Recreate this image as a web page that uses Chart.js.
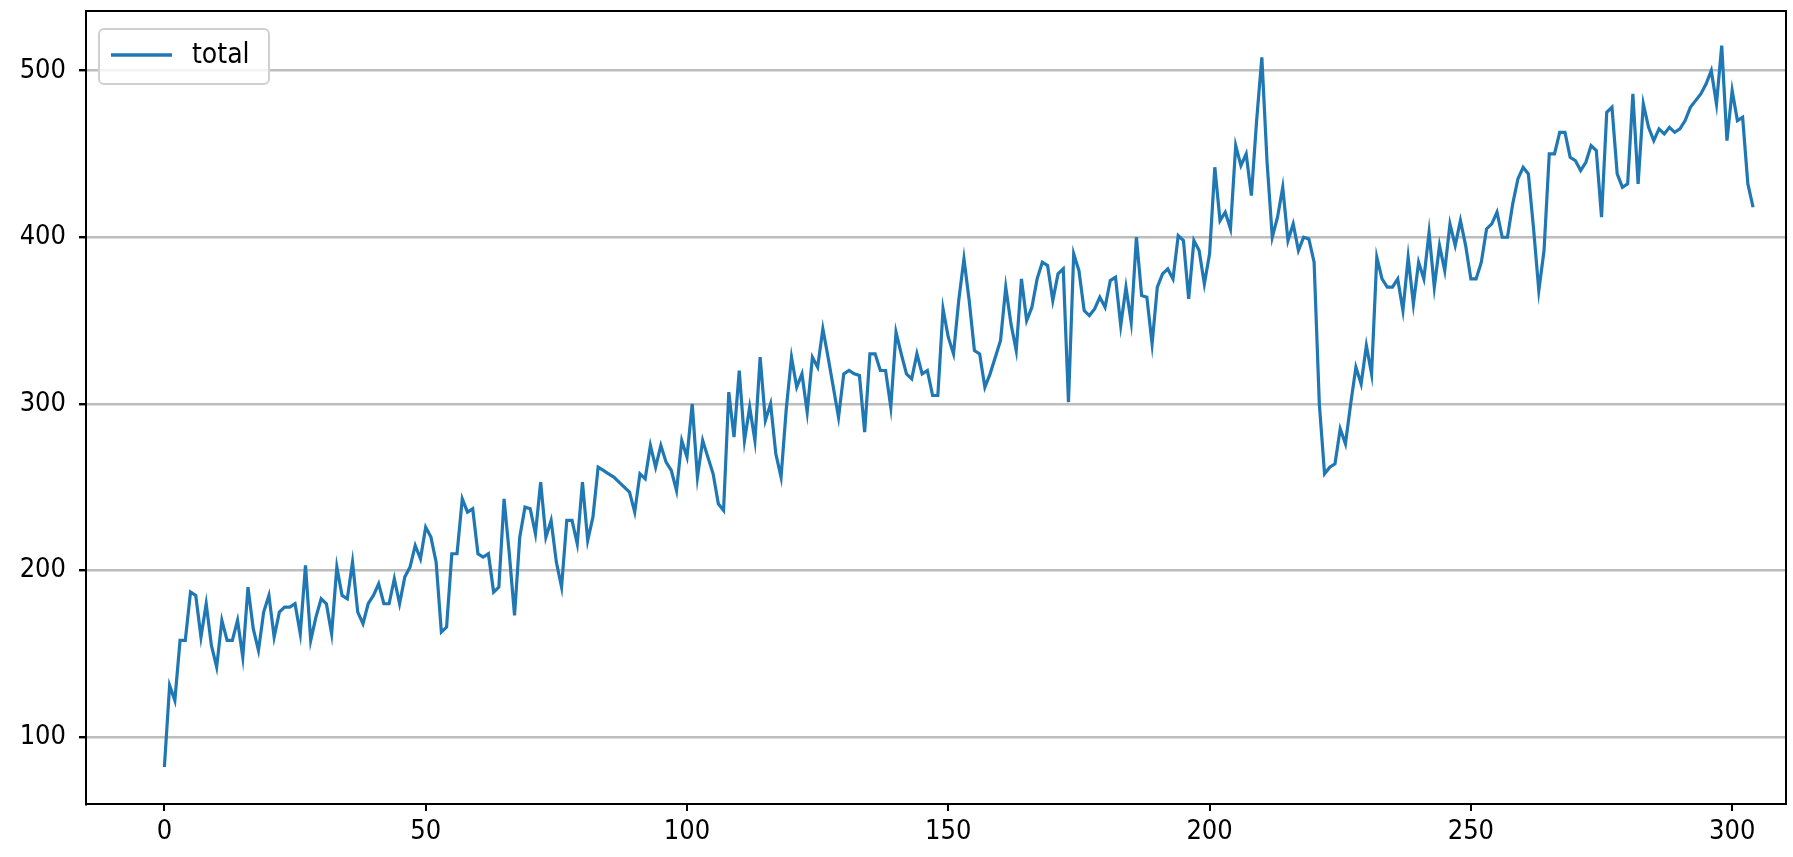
<!DOCTYPE html>
<html>
<head>
<meta charset="utf-8">
<script src="https://cdn.jsdelivr.net/npm/chart.js@4.4.1/dist/chart.umd.min.js"></script>
<style>
  html, body { margin: 0; padding: 0; background: #fff; }
  #wrap { position: relative; width: 1793px; height: 857px; }
</style>
</head>
<body>
<div id="wrap"><canvas id="totalChart"></canvas></div>
<script>
// series, one value per step
const seriesLabel = 'total';
const totalValues = [
  82, 131, 122, 158, 158, 187, 185, 160, 180, 155,
  142, 170, 158, 158, 170, 148, 190, 165, 152, 175,
  185, 160, 175, 178, 178, 180, 162, 203, 158, 172,
  183, 180, 162, 202, 185, 183, 205, 175, 168, 180,
  185, 192, 180, 180, 195, 180, 196, 202, 215, 207,
  226, 220, 205, 163, 166, 210, 210, 243, 235, 237,
  210, 208, 210, 187, 190, 243, 210, 173, 220, 238,
  237, 222, 253, 220, 230, 205, 190, 230, 230, 216,
  253, 218, 232, 262, 260, 258, 256, 253, 250, 247,
  235, 258, 255, 275, 262, 275, 265, 260, 248, 278,
  268, 300, 256, 278, 268, 258, 240, 236, 307, 280,
  320, 278, 298, 278, 328, 290, 300, 270, 256, 297,
  328, 310, 318, 295, 328, 322, 345, 328, 310, 292,
  318, 320, 318, 317, 283, 330, 330, 320, 320, 298,
  343, 330, 318, 315, 330, 318, 320, 305, 305, 357,
  340, 330, 362, 387, 362, 332, 330, 310, 318, 328,
  338, 370, 348, 332, 375, 350, 358, 375, 385, 383,
  362, 378, 381, 301, 390, 380, 356, 353, 357, 364,
  358, 374, 376, 347, 370, 349, 400, 365, 364, 336,
  370, 378, 381, 375, 401, 398, 363, 398, 392, 372,
  390, 442, 410, 415, 405, 455, 443, 450, 425, 470,
  508, 445, 400, 412, 430, 398, 408, 392, 400, 399,
  385, 300, 258, 262, 264, 285, 276, 300, 322, 312,
  335, 318, 388, 375, 370, 370, 375, 356, 388, 360,
  385, 375, 403, 370, 395, 380, 408, 395, 410, 395,
  375, 375, 385, 405, 408, 415, 400, 400, 420, 435,
  442, 438, 405, 368, 392, 450, 450, 463, 463, 448,
  446, 440, 445, 455, 452, 412, 475, 478, 438, 430,
  432, 486, 432, 480, 466, 458, 465, 462, 466, 463,
  465, 470, 478, 482, 486, 492, 500, 480, 515, 458,
  488, 470, 472, 432, 418
];
const xTicks = [0, 50, 100, 150, 200, 250, 300];
const yTicks = [100, 200, 300, 400, 500];

const tickFont = { family: 'DejaVu Sans Condensed', size: 27 };

// matplotlib style box round the plot and the legend in the top left corner
const framePlugin = {
  id: 'frame',
  afterDraw(chart) {
    const { ctx, chartArea: a } = chart;
    ctx.save();
    ctx.strokeStyle = '#000';
    ctx.lineWidth = 2;
    ctx.strokeRect(a.left, a.top, a.right - a.left, a.bottom - a.top);

    const ds = chart.data.datasets[0];
    const bx = a.left + 13, by = a.top + 18, bw = 170, bh = 55;
    ctx.fillStyle = 'rgba(255,255,255,0.8)';
    ctx.strokeStyle = '#d0d0d0';
    ctx.lineWidth = 2;
    ctx.beginPath();
    ctx.roundRect(bx, by, bw, bh, 5);
    ctx.fill();
    ctx.stroke();

    ctx.strokeStyle = ds.borderColor;
    ctx.lineWidth = 3.6;
    ctx.beginPath();
    ctx.moveTo(bx + 12, by + 26);
    ctx.lineTo(bx + 73, by + 26);
    ctx.stroke();

    ctx.fillStyle = '#000';
    ctx.font = '28px "DejaVu Sans Condensed"';
    ctx.textBaseline = 'middle';
    ctx.fillText(ds.label, bx + 93, by + 27);
    ctx.restore();
  }
};

const ctx = document.getElementById('totalChart').getContext('2d');
const totalChart = new Chart(ctx, {
  type: 'line',
  data: {
    datasets: [{
      label: seriesLabel,
      data: totalValues.map((v, i) => ({ x: i, y: v })),
      borderColor: '#1f77b4',
      borderWidth: 3.2,
      pointRadius: 0,
      tension: 0,
      fill: false
    }]
  },
  options: {
    responsive: true,
    maintainAspectRatio: false,
    animation: false,
    devicePixelRatio: 1,
    layout: { padding: { top: 11, right: 7, left: 0, bottom: 0 } },
    plugins: {
      legend: { display: false },
      tooltip: { enabled: false }
    },
    scales: {
      x: {
        type: 'linear',
        min: -15,
        max: 310.3,
        afterBuildTicks: axis => { axis.ticks = xTicks.map(v => ({ value: v })); },
        afterFit: axis => {
          axis.height = 53;
          axis.paddingLeft = 0;
          axis.paddingRight = 0;
        },
        grid: { drawOnChartArea: false, tickColor: '#000', tickLength: 7, lineWidth: 2 },
        border: { color: '#000', width: 2 },
        ticks: { color: '#000', font: tickFont, padding: 5, maxRotation: 0 }
      },
      y: {
        min: 59.8,
        max: 535.8,
        afterBuildTicks: axis => { axis.ticks = yTicks.map(v => ({ value: v })); },
        afterFit: axis => {
          axis.width = 86;
          axis.paddingTop = 0;
          axis.paddingBottom = 0;
        },
        grid: { color: '#bdbdbd', lineWidth: 2.4, tickColor: '#000', tickLength: 7 },
        border: { color: '#000', width: 2 },
        ticks: { color: '#000', font: tickFont, padding: 13 }
      }
    }
  },
  plugins: [framePlugin]
});
</script>
</body>
</html>
